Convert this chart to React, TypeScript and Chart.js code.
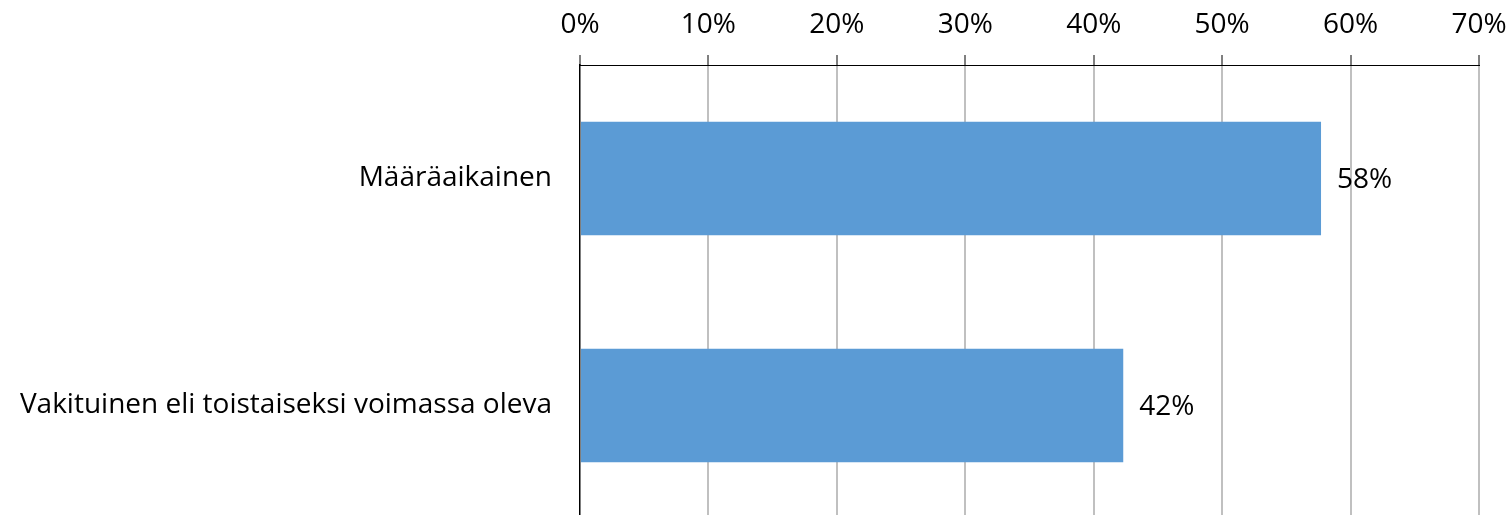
import React, { useEffect, useRef } from "react";
import { Chart, registerables } from "chart.js";

Chart.register(...registerables);

const categories = ["Määräaikainen", "Vakituinen eli toistaiseksi voimassa oleva"];
const shares = [57.7, 42.3];
const shareLabels = ["58%", "42%"];
const tickValues = [0, 10, 20, 30, 40, 50, 60, 70];

const FONT = "'Open Sans', sans-serif";
const SIZE = 28;

const valueLabels = {
  id: "valueLabels",
  afterDatasetsDraw(chart: any) {
    const ctx = chart.ctx;
    const meta = chart.getDatasetMeta(0);
    ctx.save();
    ctx.fillStyle = "#000";
    ctx.font = `${SIZE}px ${FONT}`;
    ctx.textAlign = "left";
    ctx.textBaseline = "middle";
    meta.data.forEach((bar: any, i: number) => {
      ctx.fillText(shareLabels[i], bar.x + 16, bar.y + 2);
    });
    ctx.restore();
  },
};

export default function App() {
  const ref = useRef<HTMLCanvasElement>(null);
  useEffect(() => {
    const chart = new Chart(ref.current!, {
      type: "bar",
      data: {
        labels: categories,
        datasets: [
          {
            data: shares,
            backgroundColor: "#5B9BD5",
            categoryPercentage: 1,
            barPercentage: 0.5,
          },
        ],
      },
      options: {
        indexAxis: "y",
        animation: false,
        responsive: false,
        maintainAspectRatio: false,
        layout: { padding: { left: 0, right: 32, top: 0, bottom: 0 } },
        plugins: { legend: { display: false }, tooltip: { enabled: false } },
        scales: {
          x: {
            position: "top",
            min: 0,
            max: 70,
            afterBuildTicks(scale: any) {
              scale.ticks = tickValues.map((v) => ({ value: v }));
            },
            afterFit(scale: any) {
              scale.height = 65;
              scale.paddingLeft = 0;
              scale.paddingRight = 0;
            },
            ticks: {
              color: "#000",
              font: { family: FONT, size: SIZE },
              padding: 13,
              maxRotation: 0,
              callback: (v: any) => `${v}%`,
            },
            grid: {
              color: (c: any) => (c.index === 0 ? "rgba(0,0,0,0)" : "#C0C0C0"),
              lineWidth: 2,
              tickColor: "#000",
              tickWidth: 1,
              tickLength: 10,
              drawTicks: true,
            },
            border: { display: true, color: "#000", width: 1 },
          },
          y: {
            afterFit(scale: any) {
              scale.width = 580;
              scale.paddingTop = 0;
              scale.paddingBottom = 0;
            },
            ticks: {
              color: "#000",
              font: { family: FONT, size: SIZE },
              padding: 28,
            },
            grid: { display: false, drawTicks: false },
            border: { display: true, color: "#000", width: 1.5 },
          },
        },
      },
      plugins: [valueLabels],
    });
    return () => chart.destroy();
  }, []);
  return (
    <div style={{ position: "fixed", left: 0, top: 0, width: 1511, height: 519, background: "#fff" }}>
      <canvas ref={ref} width={1511} height={519} />
    </div>
  );
}
